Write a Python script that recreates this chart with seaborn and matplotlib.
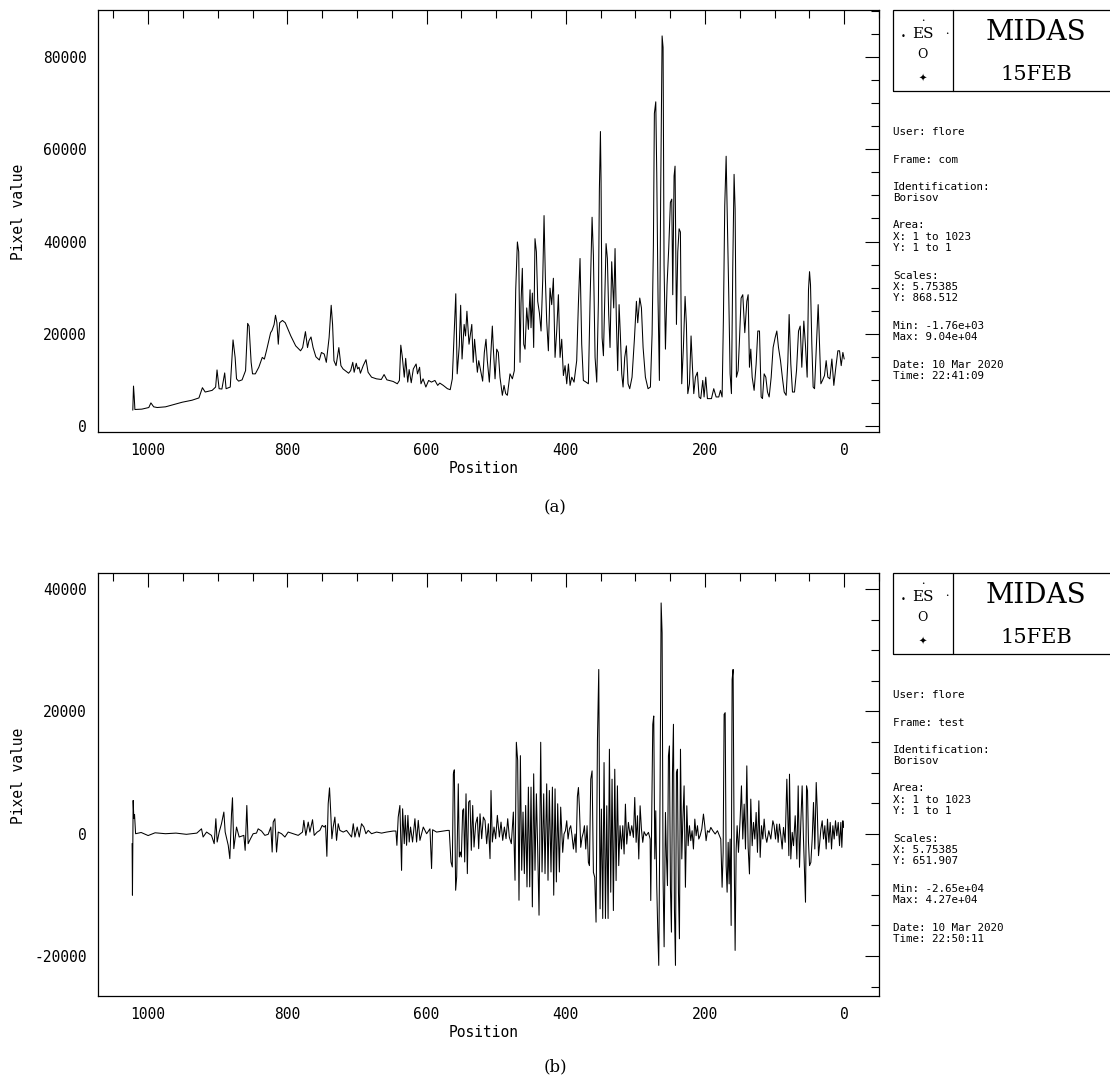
import seaborn as sns
import matplotlib.pyplot as plt
import pandas as pd
from matplotlib.ticker import MultipleLocator
from matplotlib.patches import Rectangle
from matplotlib.lines import Line2D


###############################################################################
### DATA
###############################################################################
# (a) frame "com" : position vs pixel value
com_pos = [1022, 1021, 1020, 1019, 1009, 999, 996, 992, 987, 975, 961, 951, 937, 927,
           922, 918, 908, 903, 901, 898, 894, 890, 888, 882, 878, 875, 873, 870, 865,
           860, 857, 855, 852, 850, 846, 841, 836, 833, 830, 824, 822, 819, 817, 815,
           813, 811, 807, 803, 795, 788, 781, 778, 774, 771, 769, 766, 763, 759, 754,
           751, 747, 744, 740, 737, 735, 733, 730, 726, 723, 720, 712, 709, 706, 704,
           701, 699, 697, 695, 691, 687, 684, 679, 672, 665, 661, 657, 648, 642, 639,
           637, 635, 632, 630, 627, 625, 622, 619, 615, 613, 610, 608, 605, 601, 597,
           593, 588, 584, 581, 576, 570, 566, 563, 562, 558, 556, 553, 551, 549, 546,
           544, 542, 539, 535, 533, 531, 527, 525,
           519.4, 517.0, 514.6, 512.7, 509.8, 507.4, 505.5, 504.0, 501.6, 499.2, 496.9,
           494.5, 491.1, 488.7, 486.3, 483.9, 480.1, 476.7, 473.9, 471.9, 469.5, 467.6,
           465.7, 464.3, 462.4, 460.4, 458.5, 456.1, 453.7, 451.3, 449.9, 448.0, 446.1,
           444.2, 442.2, 440.3, 437.9, 435.5, 433.1, 431.2, 429.3, 427.4, 425.0, 422.6,
           420.2, 417.8, 415.4, 413.0, 410.6, 408.2, 405.8, 403.4, 401.0, 398.6, 396.2,
           393.8, 391.4, 388.1, 384.3, 381.9, 379.5, 377.1, 374.7, 370.9, 367.5, 365.1,
           362.2, 360.3, 357.9, 355.5, 353.1, 351.7, 350.2, 349.3, 347.8, 345.9, 344.0,
           342.1, 340.2, 338.3, 336.4, 334.0,
           331.1, 329.2, 327.3, 325.4, 323.4, 321.5, 319.6, 317.7, 315.3, 312.9, 310.5,
           308.1, 304.8, 301.4, 298.5, 296.6, 293.7, 291.3, 288.9, 285.6, 281.8, 278.4,
           276.0, 274.1, 272.7, 270.7, 269.3, 267.4, 265.5, 263.6, 261.6, 260.2, 258.8,
           256.8, 254.5, 252.1, 249.7, 247.7, 246.3, 244.4, 243.0, 241.0, 239.1, 237.2,
           235.3, 233.4, 231.0, 228.6, 226.7, 224.7, 222.3, 220.0, 218.0, 216.1, 213.7,
           210.9, 208.5, 206.1, 203.2, 201.3, 198.9, 196.5, 193.6, 190.7, 187.4, 184.0,
           180.2, 177.8, 175.4, 173.5, 171.6, 169.6, 167.7, 165.8, 163.9, 162.0, 160.1,
           158.2, 156.7, 154.8, 152.4, 150.5, 148.1, 145.7, 142.8,
           139.9, 138.0, 136.1, 134.2, 132.2, 129.4, 126.5, 124.1, 121.7, 119.3, 117.4,
           115.0, 112.6, 110.2, 107.8, 104.9, 102.1, 99.2, 96.8, 94.4, 91.5, 88.6, 86.2,
           83.4, 81.0, 79.1, 76.7, 74.3, 71.4, 68.5, 65.6, 63.2, 60.9, 58.0, 55.6, 53.2,
           51.3, 49.8, 48.4, 46.5, 44.6, 42.6, 39.8, 37.4, 35.5, 33.5, 31.2, 28.3, 25.9,
           23.5, 20.6, 17.7, 14.9, 12.0, 9.1, 6.7, 4.3, 1.9, 0.0]
com_val = [3430, 8650, 6440, 3570, 3650, 4000, 5000, 4150, 4000, 4150, 4720, 5150, 5580, 6080,
           8300, 7360, 7720, 8440, 12150, 8080, 8010, 11500, 8080, 8440, 18660, 14870, 10220, 9720, 10000,
           12000, 22240, 21660, 13800, 11300, 11300, 12730, 14870, 14500, 16300, 20230, 20700, 22000, 24000, 22380,
           17730, 22380, 22880, 22380, 19520, 17370, 16300, 17000, 20450, 17000, 18450, 19300, 17000, 15000, 14300,
           15940, 15590, 13800, 19160, 26170, 22000, 14150, 13080, 17000, 13080, 12370, 11440, 12000, 13800, 11650,
           13590, 12370, 12730, 11440, 13080, 14370, 11650, 10580, 10220, 10080, 11150, 10000, 9650, 9150, 9870,
           17520, 15230, 10580, 14660, 9510, 12230, 9370, 12370, 13440, 11300, 12730, 9150, 10220, 8440, 9870,
           9510, 9870, 8800, 9300, 8800, 8080, 7870, 10220, 13800, 28670, 11300, 17370, 26170, 14520, 22020,
           19520, 24880, 17730, 22020, 13800, 18800, 11650, 14160,
           9720, 15940, 18800, 14160, 9510, 16300, 21660, 16660, 10220, 16660, 15940,
           10580, 6650, 8800, 7010, 6650, 11300, 10220, 12000, 29530, 39900, 37750,
           13800, 26670, 34180, 17730, 16660, 25600, 20950, 29530, 21300, 28810, 17020,
           40610, 37750, 27030, 24520, 20590, 31670, 45620, 32030, 22740, 16300, 29890,
           26310, 32030, 14870, 20590, 28460, 14870, 18800, 10940, 13080, 9150, 13440,
           8800, 10580, 9510, 14160, 26310, 36320, 17730, 9870, 9510, 9150, 27030,
           45260, 37040, 14870, 9510, 27030, 51340, 63850, 53120, 19160, 15230, 27030,
           39540, 36320, 24170, 17020, 35610,
           25600, 38470, 22740, 12000, 26310, 19520, 11300, 8440, 14870, 17370, 9150,
           8080, 10580, 18800, 27030, 22380, 27740, 25600, 17020, 10580, 8080, 8440,
           19880, 39180, 67780, 70290, 54910, 27030, 9870, 51340, 84580, 82080, 34890,
           16660, 30600, 38470, 48480, 49190, 28460, 54200, 56340, 22020, 37750, 42760,
           42040, 9150, 17020, 28100, 22020, 7010, 9150, 19520, 12730, 7010, 10580,
           11650, 6290, 5930, 9870, 6290, 10580, 5930, 5930, 5930, 8080, 6290,
           6290, 7720, 6290, 23450, 47760, 58490, 43470, 28100, 11300, 7010, 34180,
           54560, 47050, 10580, 12000, 18450, 27740, 28460, 20230,
           27030, 28460, 12730, 16660, 10580, 7720, 13440, 20590, 20590, 6290, 5930,
           11300, 10580, 7360, 6290, 10580, 17020, 19160, 20590, 17020, 14160, 10220, 7360,
           6650, 13800, 24170, 13440, 7360, 7360, 12000, 20590, 21660, 12730, 22740, 17370, 10580,
           29530, 33460, 30600, 17730, 8440, 8080, 17730, 26310, 17730, 9150, 9870, 10940, 14160,
           10580, 10220, 14520, 8800, 12730, 16300, 16300, 13080, 15940, 14520]

# (b) frame "test"
test_pos = [1023, 1022.5, 1021.5, 1020.5, 1019.5, 1018, 1010, 1000, 990, 975, 960, 945, 930,
            923.3, 921, 916, 909, 905.1, 902.7, 900.8, 897.9, 894.6, 891.2, 889.3, 884.9,
            882.6, 880.2, 878.8, 876.9, 873, 869.2, 862.5, 860.6, 858.2, 856.3, 852.9, 849.1,
            844.3, 841.9, 837.1, 832.3, 827.5, 823.7, 821.8, 820.3, 817.9, 815.5, 813.1, 808.3,
            803.5, 798.8, 791.6, 784.4, 778.2, 776.3, 773.4, 770, 767.6, 763.8, 761.4, 757.1,
            753.3, 749.9, 747, 745.1, 743.2, 741.3, 739.4, 737.9, 736, 734.1, 731.7, 729.3,
            726.9, 724.5, 719.7, 714.9, 707.7, 705.3, 702.9, 699.6, 696.7, 693.4, 690, 687.1,
            683.8, 679, 671.8, 664.6, 657.4, 647.8, 644, 642.6, 640.7, 638.3, 635.9, 634.4,
            632, 630.6, 628.7, 626.8, 624.9, 623, 620.1, 616.7, 614.3, 611.9, 609.5, 604.7,
            599.9, 595.1, 592.8, 591.3, 585.6, 576, 570, 567.4,
            564.9, 563.0, 561.5, 560.1, 558.2, 556.7, 554.4, 552.9, 551.5, 550.0, 548.1,
            546.7, 545.2, 543.3, 541.4, 539.5, 537.6, 535.7, 533.7, 531.8, 529.4, 527.0,
            525.1, 523.2, 520.8, 518.4, 516.0, 513.6, 511.2, 508.8, 507.4, 505.5, 503.1,
            500.7, 498.3, 495.4, 493.0, 490.6, 488.2, 485.8, 483.4, 481.1, 478.2, 475.3,
            472.9, 471.0, 469.1, 467.2, 465.2, 463.3, 461.4, 459.5, 457.6, 455.7, 453.7,
            451.8, 449.9, 448.0, 446.1, 444.2, 442.2, 440.3, 438.4, 436.0, 434.1, 431.7,
            429.8, 427.4, 425.5, 423.6, 421.2, 419.2, 417.3, 415.4, 413.5, 411.6, 409.2, 407.3,
            404.4, 402.5, 400.5, 398.6, 396.7, 394.8, 392.9, 391.0, 389.0, 386.6, 385.2,
            383.3, 381.8, 380.4, 378.5, 376.6, 374.7, 373.2, 371.3, 369.4, 367.5, 366.0,
            364.1, 362.2, 360.3, 358.4, 356.5, 354.5, 352.6, 350.7, 348.8, 346.9, 345.0,
            343.0, 341.1, 339.2, 337.3, 335.4, 333.5, 331.6, 329.6, 327.7, 325.8, 323.9,
            322.0, 320.0, 318.1, 316.2, 314.3, 312.4, 310.0, 307.6, 305.2, 302.8, 300.9,
            298.9, 297.0, 295.1, 293.2, 291.3, 289.4, 287.5, 284.6, 281.2, 278.8, 277.9,
            276.5, 275.0, 273.6, 272.1, 270.7, 269.3, 267.8, 266.4, 264.5, 263.0, 261.6,
            260.2, 258.7, 256.8, 255.4, 253.9, 252.5, 251.1, 249.6, 248.2, 246.7, 245.3,
            243.9, 242.4, 241.0, 239.6, 238.1, 236.7, 235.2, 233.3, 231.9, 230.0, 228.1,
            226.1, 224.2, 222.3, 220.4, 218.5, 216.6, 214.6, 212.7, 210.8, 208.9, 207.0,
            204.6, 202.2, 200.3, 198.4, 196.4, 194.0, 191.6, 188.8, 185.4, 182.1, 179.2,
            177.3, 175.4, 173.9, 172.5, 171.0, 169.6, 168.2, 166.7, 165.3, 163.9, 162.4,
            161.0, 159.6, 158.1, 156.7, 155.2, 153.8, 151.9, 149.5, 147.6, 145.7, 143.7,
            141.8, 139.9, 138.0, 136.1, 134.2, 132.2, 130.3, 128.4, 126.5, 124.6, 122.6,
            120.7, 118.8, 116.9, 115.0, 113.1, 111.2, 108.3, 105.4, 102.5, 100.6, 98.7,
            96.8, 94.9, 93.0, 91.0, 89.1, 87.2, 84.8, 82.4, 79.5, 78.6, 76.7, 74.7,
            72.8, 70.4, 68.0, 66.1, 64.2, 62.3, 60.4, 58.5, 57.0, 55.6, 54.1, 52.7,
            51.3, 49.8, 47.9, 46.0, 44.1, 42.2, 40.2, 38.8, 36.9, 35.5, 33.5, 31.6,
            29.7, 27.8, 25.9, 24.0, 22.0, 20.1, 18.2, 16.3, 14.4, 12.5, 10.6, 8.6,
            6.7, 4.8, 3.4, 1.9, 1.0]
test_val = [-1600, -10060, 5440, 2500, 3150, 0, 200, -300, 150, 0, 100, -100, 100,
            800, -540, 270, -270, -1630, 2450, -1360, 270, 1630, 3540, 270, -1900,
            -4080, 3260, 5880, -2450, 1090, -540, -270, -2720, 4620, -1630, -820, 0,
            100, 800, 440, -270, -100, 1090, -3000, 1900, 2450, -3000, 270, 0,
            -540, 270, 0, -270, 270, 2180, -270, 1900, 270, 2290, -270, 270,
            540, 1360, 1090, 1360, -3700, 4900, 7500, 4080, -820, 1090, 2720, -1090,
            1630, 540, 270, 540, -540, 1630, -540, 1090, -540, 1630, 1090, 0,
            540, 0, 270, 100, 270, 440, 440, -1900, 2720, 4620, -6000, 4080,
            -1630, 3000, -1900, 3000, -1360, 1090, -1360, 2450, -1360, 2180, -1090, 1090,
            0, 800, -5700, 650, 270, 440, 540, 540,
            -4620, -5440, 9800, 10450, -9250, -7070, 8160, -3800, -3000, -3800, 3800,
            4080, -4620, 6530, -6530, 5170, 5440, -2720, 4620, -2180, 1630, 2720,
            -2450, 3260, -820, 2720, 2180, -1630, 1630, -4080, 7070, -1360, 1090,
            -820, 3000, -540, 1900, -1090, 1090, -820, 2450, -540, -1630, 3540,
            -7620, 14960, 11970, -10880, 12770, -5980, 3540, -6530, 4620, -8700, 7620,
            -8700, 7620, -11970, 9800, -5980, 6530, -2720, -13330, 14960, -6260, 6530,
            -6530, 8160, -7620, 7070, -6260, 7620, -10060, 7340, -7890, 4900, -6260, 4350,
            -3050, -50, 490, 2120, -870, 760, 1310, -330, -2500, -50, -3050,
            6090, 7560, 4300, -2230, -600, 220, 1310, -2500, 1310, -4680, -5220,
            8920, 10280, -6310, -7130, -14470, 15180, 26870, -12290, 4030, -13870, 11640,
            -13870, 4570, -13870, 13820, -9570, 8920, -12570, 10550, -7670, 7830, -5220,
            1310, -2500, 1310, -3320, 4840, -1690, 1850, -330, 1310, -600, 5930,
            -1410, 2940, -4130, 4570, 760, -1410, 330, -330, 220, -870, -10930,
            3480, 17900, 19260, -4130, 3750, -8490, -16100, -21540, 7290, 37750, 32860,
            -7400, -18500, 3480, -3590, -8490, 12730, 14360, -9030, -16100, 10010, 17900,
            -12290, -21540, 10010, 10550, -9570, -17190, 13820, -4130, 1850, 7830, -8760,
            4570, -1960, 1310, -1140, 490, -2500, 2390, -330, 1310, -870, -330,
            760, 3210, 1310, -1140, 490, 220, 1030, 490, -50, 490, -330,
            -870, -8760, -3050, 19530, 19800, -5220, -9570, -1410, -8210, -870, -15010,
            25240, 26870, -3050, -19090, -2500, 1310, -3050, 2390, 7830, -870, 4840,
            -2500, 11100, -2230, -6580, 5660, -1960, 1850, -870, 3480, -3050, 5390,
            -3860, 1310, -870, 2390, -330, -1410, 490, -870, 2120, 1310, -870,
            1580, -1410, 1580, -330, -2500, 1030, -1410, 8920, -3590, 9740, -4130, 220,
            -1960, 2940, -4130, 7830, -5490, 1850, 7830, -870, -6310, -11210, 7830, 7020,
            -1410, -5220, -4680, -870, 5110, -2500, 8380, 4300, -3590, -1960, 760, 2120,
            -870, 1310, -2500, 2390, -1410, 1850, -2500, 1310, -870, 2120, -330, 1850,
            -1960, 1850, -2230, 2120, 1030]

# header / info panel text for each frame
panel_info = [
    dict(frame='com', scale_y='868.512', vmin='-1.76e+03', vmax='9.04e+04',
         time='22:41:09', ylim=(-1200, 90200), caption='(a)'),
    dict(frame='test', scale_y='651.907', vmin='-2.65e+04', vmax='4.27e+04',
         time='22:50:11', ylim=(-26500, 42700), caption='(b)'),
]

W, H = 1110, 1083
MONO = 'DejaVu Sans Mono'
SERIF = 'DejaVu Serif'

sns.set_style('white')
plt.rcParams['font.family'] = [MONO, 'DejaVu Sans']
plt.rcParams['text.color'] = 'black'
plt.rcParams['axes.labelcolor'] = 'black'
plt.rcParams['xtick.color'] = 'black'
plt.rcParams['ytick.color'] = 'black'
plt.rcParams['axes.unicode_minus'] = False


def px(x, y):
    '''pixel position -> figure fraction'''
    return x / W, 1 - y / H


def draw_header(fig, top):
    '''
    MIDAS logo box, to the right of the axes
    top = pixel y of the axes top edge
    '''
    x0, y0 = px(893, top + 81)
    fig.add_artist(Rectangle((x0, y0), 240 / W, 81 / H, transform=fig.transFigure,
                             fill=False, lw=0.9, ec='black', clip_on=False))
    xa, ya = px(953, top)
    xb, yb = px(953, top + 81)
    fig.add_artist(Line2D([xa, xb], [ya, yb], transform=fig.transFigure, lw=0.9, color='black'))

    # ESO logo
    fig.text(*px(922.5, top + 10.5), '•', fontsize=4, ha='center', va='center', family='DejaVu Sans')
    fig.text(*px(903, top + 26.5), '•', fontsize=6, ha='center', va='center', family='DejaVu Sans')
    fig.text(*px(946.5, top + 23), '•', fontsize=4, ha='center', va='center', family='DejaVu Sans')
    fig.text(*px(922.5, top + 24), 'ES', fontsize=11, ha='center', va='center', family=SERIF)
    fig.text(*px(922, top + 45), 'O', fontsize=9, ha='center', va='center', family=SERIF)
    fig.text(*px(922.5, top + 69), '✦', fontsize=7, ha='center', va='center', family='DejaVu Sans')

    fig.text(*px(1036, top + 22.5), 'MIDAS', fontsize=20, ha='center', va='center', family=SERIF)
    fig.text(*px(1036, top + 65), '15FEB', fontsize=15, ha='center', va='center', family=SERIF)


def draw_info(fig, top, info):
    lines = [(122, 'User: flore'), (150, 'Frame: ' + info['frame']),
             (177, 'Identification:'), (188, 'Borisov'),
             (215, 'Area:'), (227, 'X: 1 to 1023'), (238, 'Y: 1 to 1'),
             (266, 'Scales:'), (277, 'X: 5.75385'), (288, 'Y: ' + info['scale_y']),
             (316, 'Min: ' + info['vmin']), (327, 'Max: ' + info['vmax']),
             (355, 'Date: 10 Mar 2020'), (366, 'Time: ' + info['time'])]
    for dy, s in lines:
        fig.text(*px(893, top + dy), s, fontsize=7.8, ha='left', va='center', family=MONO)


def spectrum_panel(ax, pos, val, info):
    df = pd.DataFrame({'pos': pos, 'val': val})
    sns.lineplot(data=df, x='pos', y='val', ax=ax, color='black', linewidth=0.75,
                 estimator=None, sort=False)

    ax.set_xlim(1072, -50)
    ax.set_ylim(*info['ylim'])
    ax.xaxis.set_major_locator(MultipleLocator(200))
    ax.xaxis.set_minor_locator(MultipleLocator(50))
    ax.yaxis.set_major_locator(MultipleLocator(20000))
    ax.yaxis.set_minor_locator(MultipleLocator(5000))
    ax.tick_params(which='both', direction='in', top=True, right=True, width=0.8,
                   color='black', labelsize=10.5, labelcolor='black')
    ax.tick_params(which='major', length=10, pad=8)
    ax.tick_params(which='minor', length=6)
    for sp in ax.spines.values():
        sp.set_linewidth(0.9)
        sp.set_color('black')

    ax.set_xlabel('Position', fontsize=10.5, va='center')
    ax.set_ylabel('Pixel value', fontsize=10.5, va='center')
    ax.xaxis.set_label_coords(0.494, -0.087)
    ax.yaxis.set_label_coords(-0.102, 0.52)
    ax.grid(False)


fig = plt.figure(figsize=(W / 100, H / 100), dpi=100)

tops = [10, 572.7]
heights = [421.5, 423]
for info, top, h, pos, val in zip(panel_info, tops, heights,
                                  [com_pos, test_pos], [com_val, test_val]):
    ax = fig.add_axes([98 / W, 1 - (top + h) / H, 781 / W, h / H])
    spectrum_panel(ax, pos, val, info)
    draw_header(fig, top)
    draw_info(fig, top, info)

fig.text(*px(555, 508), '(a)', fontsize=12, ha='center', va='center', family=SERIF)
fig.text(*px(555, 1067), '(b)', fontsize=12, ha='center', va='center', family=SERIF)

fig.savefig('out.png', dpi=100, facecolor='white')
